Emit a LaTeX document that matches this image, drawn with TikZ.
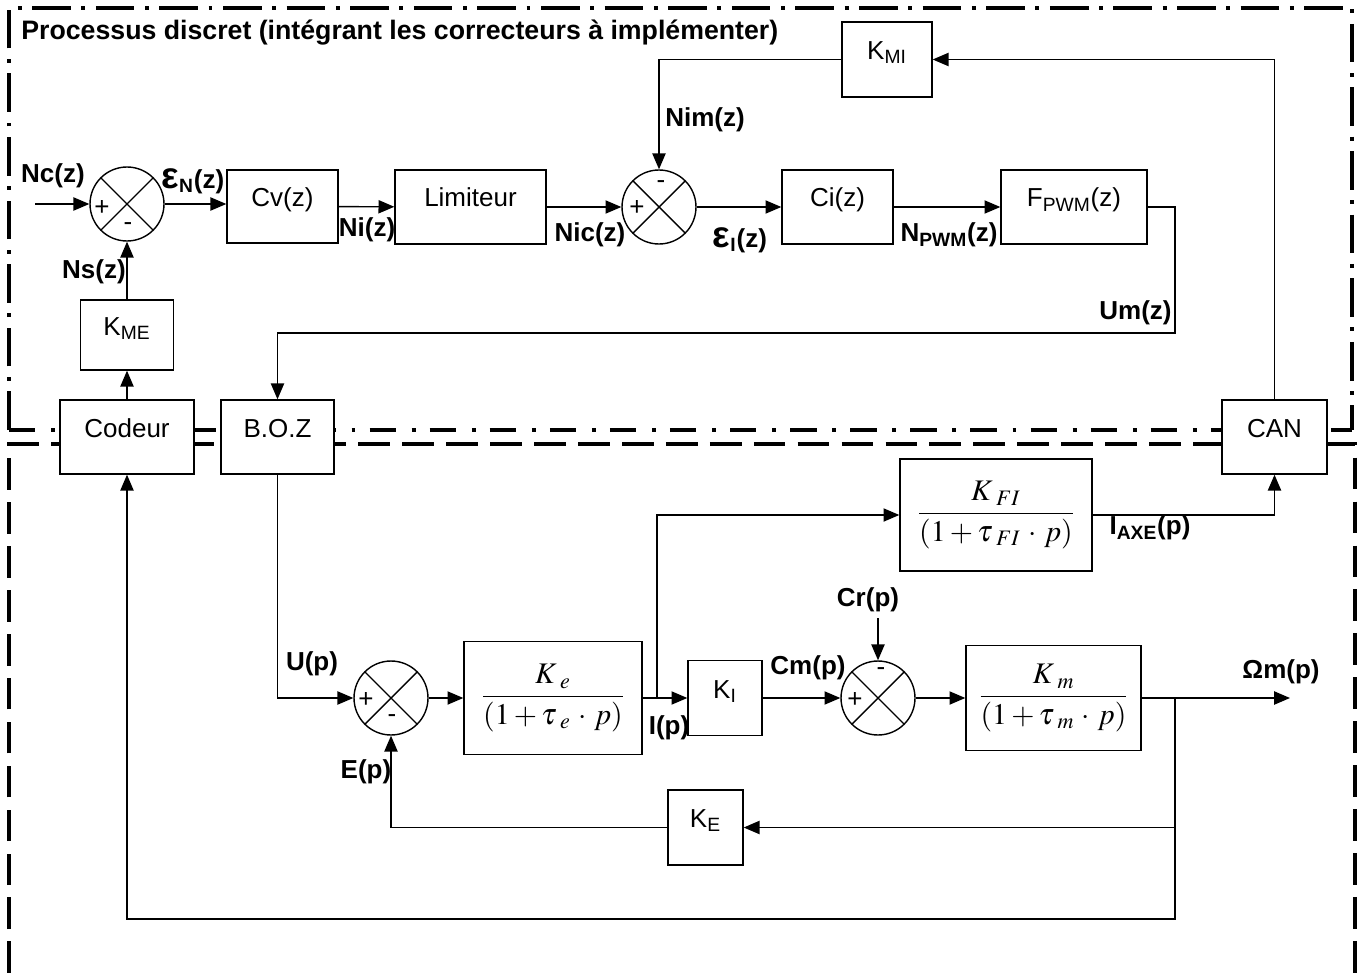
\documentclass[tikz,border=0pt]{standalone}
\usepackage{mathptmx}
\usepackage[no-math]{fontspec}
\setmainfont{Liberation Sans}
\usetikzlibrary{arrows.meta}

\tikzset{
  txt/.style={font=\fontsize{14.8}{17}\selectfont, inner sep=0pt},
  lbl/.style={font=\fontsize{14.8}{17}\selectfont\bfseries, inner sep=0pt},
  blk/.style={draw, fill=white, line width=0.8pt, txt, text height=5pt, text depth=5pt},
  fblk/.style={draw, fill=white, line width=0.8pt, font=\fontsize{17}{20}\selectfont, inner sep=0pt},
  summer/.style={circle, draw, fill=white, line width=0.8pt, minimum size=1.48cm, inner sep=0pt,
    path picture={\draw[line width=0.8pt] (path picture bounding box.north west) -- (path picture bounding box.south east)
      (path picture bounding box.north east) -- (path picture bounding box.south west);}},
  wire/.style={line width=0.8pt},
  arr/.style={line width=0.8pt, -{Triangle[length=9pt,width=7.5pt]}},
  dashdot/.style={line width=2pt, dash pattern=on 22pt off 6pt on 2.2pt off 6pt},
  dashdotb/.style={line width=2pt, dash pattern=on 15pt off 9pt on 2.2pt off 8pt},
  dashb/.style={line width=2pt, dash pattern=on 18pt off 7pt},
}
\newcommand{\epsi}{{\fontsize{21}{21}\selectfont ε}}

\begin{document}
\begin{tikzpicture}[x=0.02cm, y=-0.02cm]
  \useasboundingbox (0,0) rectangle (1362,973);

  % cadres
  \draw[dashdot] (9,430) -- (9,8) -- (1352,8) -- (1352,430);
  \draw[dashdotb] (9,430) -- (1352,430);
  \draw[dashb] (9,973) -- (9,444) -- (1355,444) -- (1355,973);

  \node[lbl, font=\fontsize{15.2}{18}\selectfont\bfseries, anchor=west] (titre) at (21,33) {Processus discret (intégrant les correcteurs à implémenter)};

  % partie discrete
  \node[summer] (s1) at (127,204) {};
  \node[blk, minimum width=2.22cm, minimum height=1.46cm] (Cv) at (282.5,206.5) {Cv(z)};
  \node[blk, minimum width=3.02cm, minimum height=1.48cm] (Lim) at (470.5,207) {Limiteur};
  \node[summer] (s2) at (659,207) {};
  \node[blk, minimum width=2.22cm, minimum height=1.48cm] (Ci) at (837.5,207) {Ci(z)};
  \node[blk, minimum width=2.92cm, minimum height=1.48cm] (Fpwm) at (1074,207) {F\textsubscript{PWM}(z)};
  \node[blk, minimum width=1.8cm, minimum height=1.5cm] (KMI) at (887,59.5) {K\textsubscript{MI}};
  \node[blk, minimum width=1.86cm, minimum height=1.4cm] (KME) at (127,335) {K\textsubscript{ME}};
  \node[blk, minimum width=2.68cm, minimum height=1.48cm] (Codeur) at (127,437) {Codeur};
  \node[blk, minimum width=2.26cm, minimum height=1.48cm] (BOZ) at (277.5,437) {B.O.Z};
  \node[blk, minimum width=2.1cm, minimum height=1.48cm] (CAN) at (1274.5,437) {CAN};

  % partie continue
  \node[summer] (s3) at (391,698) {};
  \node[fblk, minimum width=3.56cm, minimum height=2.26cm] (Ke) at (553,698) {$\displaystyle\frac{K\,{}_{e}}{(1+\tau\,{}_{e}\,\cdot\, p)}$};
  \node[blk, minimum width=1.48cm, minimum height=1.5cm] (KI) at (725,698) {K\textsubscript{I}};
  \node[summer] (s4) at (878,698) {};
  \node[fblk, minimum width=3.5cm, minimum height=2.1cm] (Km) at (1053.5,698) {$\displaystyle\frac{K\,{}_{m}}{(1+\tau\,{}_{m}\,\cdot\, p)}$};
  \node[fblk, minimum width=3.84cm, minimum height=2.24cm] (KFI) at (996,515) {$\displaystyle\frac{K\,{}_{FI}}{(1+\tau\,{}_{FI}\,\cdot\, p)}$};
  \node[blk, minimum width=1.5cm, minimum height=1.5cm] (KE) at (705.5,827.5) {K\textsubscript{E}};

  \coordinate (nc) at (35,204);
  \coordinate (um) at (1175,333);
  \coordinate (br1) at (657,698);
  \coordinate (br2) at (1175,698);
  \coordinate (bot) at (1175,919);
  \coordinate (cr) at (878,618);
  \coordinate (out) at (1290,698);

  % liaisons
  \draw[arr] (nc) -- (s1);
  \draw[arr] (s1) -- (s1 -| Cv.west);
  \draw[arr] (Cv) -- (Lim);
  \draw[arr] (Lim) -- (s2);
  \draw[arr] (s2) -- (Ci);
  \draw[arr] (Ci) -- (Fpwm);
  \draw[arr] (Fpwm.east) -| (um) -| (BOZ.north);
  \draw[arr] (CAN.north) |- (KMI.east);
  \draw[arr] (KMI.west) -| (s2.north);
  \draw[arr] (Codeur.north) -- (KME.south);
  \draw[arr] (KME.north) -- (s1.south);
  \draw[arr] (BOZ.south) |- (s3.west);
  \draw[arr] (s3) -- (Ke);
  \draw[arr] (Ke) -- (KI);
  \draw[arr] (br1) |- (KFI.west);
  \draw[arr] (KFI.east) -| (CAN.south);
  \draw[arr] (KI) -- (s4);
  \draw[arr] (cr) -- (s4.north);
  \draw[arr] (s4) -- (Km);
  \draw[arr] (Km) -- (out);
  \draw[arr] (br2) -- (bot) -| (Codeur.south);
  \draw[arr] (br2 |- KE) -- (KE.east);
  \draw[arr] (KE.west) -| (s3.south);

  % signes
  \node[txt] (p1) at (102,208) {+};
  \node[txt] (m1) at (128,227) {-};
  \node[txt] (p2) at (637,208) {+};
  \node[txt] (m2) at (661,185) {-};
  \node[txt] (p3) at (366,700) {+};
  \node[txt] (m3) at (392,719) {-};
  \node[txt] (p4) at (855,700) {+};
  \node[txt] (m4) at (881,672) {-};

  % signaux
  \node[lbl] (lNc) at (53,176) {Nc(z)};
  \node[lbl] (lEN) at (193,181) {\epsi\textsubscript{N}(z)};
  \node[lbl] (lNi) at (367,230) {Ni(z)};
  \node[lbl] (lNic) at (590,235) {Nic(z)};
  \node[lbl] (lNim) at (705,120) {Nim(z)};
  \node[lbl] (lEI) at (740,240) {\epsi\textsubscript{I}(z)};
  \node[lbl] (lNpwm) at (949,235) {N\textsubscript{PWM}(z)};
  \node[lbl, anchor=east] (lUm) at (1172,313) {Um(z)};
  \node[lbl] (lNs) at (94,272) {Ns(z)};
  \node[lbl] (lU) at (312,664) {U(p)};
  \node[lbl] (lE) at (366,772) {E(p)};
  \node[lbl] (lI) at (669,728) {I(p)};
  \node[lbl] (lCm) at (808,668) {Cm(p)};
  \node[lbl] (lCr) at (868,600) {Cr(p)};
  \node[lbl] (lIaxe) at (1150,528) {I\textsubscript{AXE}(p)};
  \node[lbl] (lOm) at (1281,672) {Ωm(p)};
\end{tikzpicture}
\end{document}
